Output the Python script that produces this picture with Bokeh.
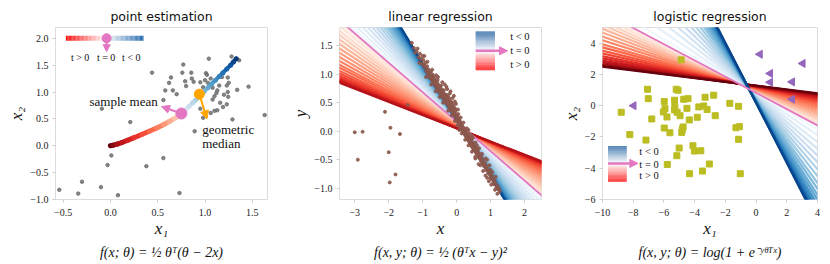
import numpy as np
from bokeh.plotting import figure
from bokeh.layouts import row
from bokeh.models import Title, Arrow, NormalHead, Range1d, FixedTicker
from bokeh.embed import file_html
from bokeh.resources import INLINE
from bokeh.core.properties import value
from bokeh.palettes import Reds256, Blues256

# ---------------- text ----------------
titles = ["point estimation", "linear regression", "logistic regression"]
formulas = ["f(x; θ) = ½ θᵀ(θ − 2x)",
            "f(x, y; θ) = ½ (θᵀx − y)²",
            "f(x, y; θ) = log(1 + e⁻ʸᶿᵀˣ)"]
legend_labels = ["t > 0", "t = 0", "t < 0"]

# ---------------- panel 1: point estimation ----------------
p1_xticks = [-0.5, 0.0, 0.5, 1.0, 1.5]
p1_xtick_labels = ["−0.5", "0.0", "0.5", "1.0", "1.5"]
p1_yticks = [-1.0, -0.5, 0.0, 0.5, 1.0, 1.5, 2.0]
p1_ytick_labels = ["−1.0", "−0.5", "0.0", "0.5", "1.0", "1.5", "2.0"]

pts1_x = [-0.54, -0.34, -0.30, -0.10, 0.08, -0.03, 0.01, -0.09, 0.21, 0.38, 0.56, 0.73,
          0.44, 0.89, 1.63, 1.46, 0.56, 0.77, 0.76, 0.855, 0.64, 0.62, 0.58, 0.66, 0.79,
          0.80, 0.88, 1.02, 1.06, 1.03, 0.95, 0.98, 1.08, 1.13, 1.12, 1.10, 1.08, 0.89,
          0.95, 0.98, 1.06, 1.10, 1.13, 1.19, 1.23, 1.24, 1.245, 1.23, 1.18, 1.28, 1.34,
          1.29, 1.04, 1.01, 1.36, 1.24, 1.25, 0.92, 1.16, 1.20, 0.86, 1.00, 1.15, 0.70]
pts1_y = [-0.82, -0.89, -0.67, -0.77, -0.92, -0.36, -0.18, 0.69, 0.44, -0.38, -0.23, -0.88,
          1.36, 0.27, 0.57, 1.10, 0.85, 1.51, 1.36, 1.36, 1.27, 1.17, 1.03, 1.03, 1.20,
          1.11, 1.19, 1.32, 1.25, 1.17, 1.18, 1.09, 1.08, 1.03, 0.98, 0.92, 0.86, 0.83,
          0.69, 0.52, 0.61, 0.65, 0.66, 0.72, 0.77, 1.00, 0.91, 1.12, 1.28, 1.66, 1.04,
          0.49, 1.62, 1.35, 1.59, 1.27, 1.17, 1.00, 0.80, 0.95, 1.25, 1.22, 1.12, 0.96]

red_path_x = [0.0, 0.03, 0.07, 0.12, 0.18, 0.25, 0.33, 0.41, 0.49, 0.56, 0.62, 0.68, 0.72, 0.75]
red_path_y = [0.0, 0.01, 0.03, 0.06, 0.10, 0.15, 0.21, 0.27, 0.33, 0.39, 0.45, 0.51, 0.56, 0.60]
blue_path_x = [0.75, 0.79, 0.83, 0.87, 0.91, 0.95, 0.99, 1.03, 1.07, 1.11, 1.15, 1.19, 1.23, 1.27, 1.30, 1.33]
blue_path_y = [0.60, 0.66, 0.73, 0.80, 0.87, 0.94, 1.01, 1.08, 1.15, 1.22, 1.29, 1.36, 1.43, 1.50, 1.56, 1.62]

sample_mean = (0.75, 0.60)
geo_median = (0.94, 0.96)

# ---------------- panel 2: linear regression ----------------
p2_xticks = [-3, -2, -1, 0, 1, 2]
p2_xtick_labels = ["−3", "−2", "−1", "0", "1", "2"]
p2_yticks = [-1.0, -0.5, 0.0, 0.5, 1.0, 1.5]
p2_ytick_labels = ["−1.0", "−0.5", "0.0", "0.5", "1.0", "1.5"]

lin_pink = (-0.517, 0.166)
lin_red_slope = [-0.506, -0.489, -0.469, -0.449, -0.429, -0.408, -0.388, -0.368, -0.349, -0.331,
                 -0.314, -0.300, -0.286, -0.274, -0.263, -0.254, -0.246, -0.240, -0.236, -0.232]
lin_red_icpt = [0.161, 0.154, 0.146, 0.138, 0.130, 0.122, 0.114, 0.106, 0.098, 0.091,
                0.084, 0.078, 0.072, 0.067, 0.063, 0.059, 0.056, 0.054, 0.052, 0.050]
lin_blue_slope = [-0.536, -0.564, -0.597, -0.631, -0.664, -0.697, -0.730, -0.763, -0.796, -0.824,
                  -0.853, -0.876, -0.900, -0.919, -0.938, -0.952, -0.966, -0.976, -0.983, -0.990]
lin_blue_icpt = [0.167, 0.169, 0.171, 0.173, 0.175, 0.177, 0.180, 0.182, 0.184, 0.186,
                 0.187, 0.189, 0.190, 0.192, 0.193, 0.194, 0.195, 0.195, 0.196, 0.196]

pts2_x = [-1.32, -1.26, -1.18, -1.12, -1.08, -1.02, -0.98, -0.95, -0.92, -0.90, -0.87, -0.85, -0.82,
          -0.80, -0.78, -0.76, -0.73, -0.71, -0.69, -0.67, -0.65, -0.63, -0.61, -0.59, -0.57, -0.55,
          -0.53, -0.51, -0.49, -0.47, -0.45, -0.43, -0.41, -0.39, -0.37, -0.35, -0.33, -0.31, -0.29,
          -0.27, -0.25, -0.23, -0.21, -0.19, -0.17, -0.15, -0.13, -0.11, -0.09, -0.07, -0.05, -0.03,
          -0.01, 0.01, 0.03, 0.05, 0.07, 0.09, 0.11, 0.13, 0.15, 0.17, 0.19, 0.21, 0.23, 0.25, 0.27,
          0.29, 0.31, 0.33, 0.35, 0.37, 0.39, 0.41, 0.43, 0.45, 0.47, 0.49, 0.51, 0.53, 0.55, 0.57,
          0.59, 0.61, 0.63, 0.66, 0.68, 0.71, 0.73, 0.76, 0.78, 0.81, 0.84, 0.87, 0.90, 0.93, 0.96,
          1.00, 1.04, 1.08, 1.12, 1.17, 1.22, 1.27,
          -1.22, -1.05, -0.96, -0.88, -0.84, -0.79, -0.74, -0.70, -0.66, -0.62, -0.58, -0.56, -0.52,
          -0.48, -0.46, -0.44, -0.40, -0.38, -0.36, -0.32, -0.30, -0.28, -0.26, -0.24, -0.22, -0.20,
          -0.18, -0.16, -0.14, -0.12, -0.10, -0.08, -0.06, -0.04, -0.02, 0.00, 0.02, 0.04, 0.06, 0.08,
          0.10, 0.12, 0.14, 0.16, 0.18, 0.20, 0.22, 0.24, 0.26, 0.28, 0.30, 0.32, 0.34, 0.36, 0.38,
          0.40, 0.42, 0.44, 0.46, 0.48, 0.50, 0.54, 0.58, 0.62, 0.65, 0.70, 0.74, 0.79, 0.83, 0.88,
          0.92, 0.98, 1.02, 1.06, 1.10, 1.15, 1.20, 1.25, -0.30, -0.20, -0.12, -0.05, 0.05, -0.55,
          -0.95, 0.35, 0.45, 0.60, 0.90, 1.00, 0.55, 0.70, 0.85, 0.95,
          -1.15, -1.00, -0.86, -0.72, -0.60, -0.42, -0.35, -0.28, -0.18, -0.08, -0.02, 0.04, 0.12,
          0.20, 0.30, 0.38, 0.48, 0.56, 0.66, 0.75, 0.86, 0.97, 1.05, 1.15, -1.10, -0.90, -0.75,
          -0.62, -0.50, -0.40, -0.25, -0.15, -0.05, 0.02, 0.08, 0.15, 0.25, 0.35, 0.45, 0.55, 0.65,
          0.78, 0.90, 1.02, 1.13, 1.20,
          -3.00, -2.77, -2.91, -2.11, -1.95, -1.67, -2.00, -1.80, -1.97, -1.44]
pts2_y = [1.55, 1.46, 1.40, 1.30, 1.36, 1.18, 1.25, 1.12, 1.20, 1.05, 1.14, 0.98, 1.08,
          1.02, 0.93, 1.04, 0.97, 0.88, 0.95, 0.84, 0.92, 0.80, 0.88, 0.76, 0.85, 0.72,
          0.81, 0.68, 0.78, 0.66, 0.74, 0.61, 0.70, 0.58, 0.66, 0.54, 0.62, 0.50, 0.59,
          0.47, 0.56, 0.43, 0.52, 0.40, 0.48, 0.36, 0.44, 0.32, 0.40, 0.28, 0.35, 0.24,
          0.30, 0.20, 0.25, 0.15, 0.21, 0.10, 0.16, 0.06, 0.11, 0.02, 0.07, -0.02, 0.03, -0.06, -0.01,
          -0.10, -0.05, -0.14, -0.09, -0.18, -0.12, -0.22, -0.16, -0.26, -0.20, -0.30, -0.24, -0.34, -0.28, -0.38,
          -0.32, -0.42, -0.36, -0.47, -0.40, -0.52, -0.45, -0.57, -0.50, -0.62, -0.56, -0.68, -0.62, -0.74, -0.69,
          -0.82, -0.78, -0.90, -0.86, -0.98, -0.97, -1.06,
          1.38, 1.27, 1.16, 1.10, 1.04, 0.98, 0.92, 0.99, 0.88, 0.84, 0.80, 0.90, 0.75,
          0.72, 0.80, 0.68, 0.64, 0.72, 0.60, 0.56, 0.64, 0.52, 0.62, 0.48, 0.58, 0.45,
          0.53, 0.42, 0.50, 0.37, 0.46, 0.34, 0.41, 0.29, 0.37, 0.26, 0.18, 0.22, 0.12, 0.19,
          0.08, 0.13, 0.04, 0.09, 0.00, 0.05, -0.04, 0.01, -0.08, -0.03, -0.12, -0.07, -0.16, -0.11, -0.20,
          -0.14, -0.24, -0.19, -0.28, -0.22, -0.33, -0.30, -0.36, -0.39, -0.43, -0.48, -0.53, -0.58, -0.61, -0.65,
          -0.70, -0.76, -0.84, -0.83, -0.93, -0.92, -1.01, -1.02, 0.78, 0.66, 0.58, 0.52, 0.30, 0.95,
          1.32, 0.02, -0.08, -0.25, -0.50, -0.68, -0.45, -0.60, -0.78, -0.88,
          1.45, 1.32, 1.22, 1.08, 0.98, 0.86, 0.82, 0.74, 0.70, 0.62, 0.48, 0.38, 0.24,
          0.15, 0.05, -0.05, -0.12, -0.20, -0.30, -0.40, -0.48, -0.60, -0.72, -0.80, 1.20, 0.95, 0.82,
          0.70, 0.60, 0.50, 0.36, 0.28, 0.18, 0.10, 0.02, -0.04, -0.15, -0.25, -0.36, -0.48, -0.58,
          -0.70, -0.82, -0.94, -1.03, -1.10,
          -0.02, -0.01, -0.50, 0.34, 0.06, -0.05, -0.37, -0.76, -0.90, 0.46]

# ---------------- panel 3: logistic regression ----------------
p3_xticks = [-10, -8, -6, -4, -2, 0, 2, 4]
p3_xtick_labels = ["−10", "−8", "−6", "−4", "−2", "0", "2", "4"]
p3_yticks = [-6, -4, -2, 0, 2, 4]
p3_ytick_labels = ["−6", "−4", "−2", "0", "2", "4"]

log_pink = (-0.519, 0.818)
log_red_slope = [-0.503, -0.479, -0.451, -0.424, -0.396, -0.368, -0.340, -0.312, -0.284, -0.261,
                 -0.237, -0.217, -0.197, -0.181, -0.165, -0.153, -0.141, -0.133, -0.127, -0.122]
log_red_icpt = [0.836, 0.864, 0.897, 0.929, 0.961, 0.994, 1.026, 1.058, 1.091, 1.118,
                1.146, 1.169, 1.192, 1.211, 1.229, 1.243, 1.257, 1.266, 1.273, 1.280]
log_blue_slope = [-0.575, -0.659, -0.757, -0.855, -0.953, -1.051, -1.149, -1.248, -1.346, -1.430,
                  -1.514, -1.584, -1.654, -1.710, -1.766, -1.808, -1.850, -1.878, -1.899, -1.920]
log_blue_icpt = [0.792, 0.754, 0.710, 0.665, 0.620, 0.576, 0.531, 0.486, 0.442, 0.403,
                 0.365, 0.333, 0.301, 0.276, 0.250, 0.231, 0.212, 0.199, 0.190, 0.180]

neg_x = [-4.88, -7.07, -7.02, -8.78, -8.22, -7.17, -6.79, -5.98, -5.93, -6.04, -5.80, -5.98, -5.61,
         -5.78, -5.20, -5.08, -5.31, -5.29, -5.31, -5.14, -4.95, -4.75, -4.80, -4.84, -4.71, -4.43,
         -4.50, -4.35, -5.01, -5.16, -4.33, -4.11, -4.01, -3.73, -3.83, -3.60, -3.49, -3.41, -3.32,
         -3.19, -3.04, -2.76, -2.66, -1.71, -1.31, -1.09, -1.14, -1.14, -1.03]
neg_y = [2.93, 1.05, 0.45, -0.42, -1.85, -2.20, -0.85, 0.26, -0.19, -0.40, -0.72, -1.43, -1.73,
         -3.76, 1.05, 0.99, 0.35, -0.06, -0.27, -0.42, -0.64, -1.36, -1.51, -1.71, 0.41, 0.45,
         -0.17, -0.91, -2.71, -3.20, -4.35, -2.56, -2.90, -0.08, -0.74, -2.88, -4.18, -0.02, 0.54,
         -0.25, -3.73, 0.67, -0.64, 0.15, -1.41, -1.34, -0.04, -2.15, -4.35]
pos_x = [0.25, 3.04, 0.92, 0.92, 2.35, 2.35, -7.97]
pos_y = [3.29, 2.70, 2.06, 1.50, 1.52, 0.41, 0.00]

# ---------------- styling ----------------
PINK = "#e377c2"
ORANGE = "#ffa500"
GRAY = "#6e6e6e"
BROWN = "#8c564b"
OLIVE = "#bcbd22"
PURPLE = "#9467bd"
SERIF = "Liberation Serif"


def hexmix(c1, c2, f):
    a = [int(c1[i:i + 2], 16) for i in (1, 3, 5)]
    b = [int(c2[i:i + 2], 16) for i in (1, 3, 5)]
    return "#%02x%02x%02x" % tuple(int(round(a[k] + (b[k] - a[k]) * f)) for k in range(3))


def reds(frac):
    return Reds256[int(round((1 - frac) * 255))]


def blues(frac):
    return Blues256[int(round((1 - frac) * 255))]


def make_fig(title, w, xr, yr, xt, xtl, yt, ytl, xlabel, ylabel, formula, bl, br):
    p = figure(width=w, height=264, x_range=Range1d(*xr), y_range=Range1d(*yr),
               output_backend="svg", toolbar_location=None,
               min_border_left=bl, min_border_right=br, min_border_top=27, min_border_bottom=65)
    p.title.text = title
    p.title.align = "center"
    p.title.text_font = "DejaVu Sans"
    p.title.text_font_size = "12.5px"
    p.title.text_font_style = "normal"
    p.title.text_color = "#111111"
    p.title.standoff = 8
    p.grid.visible = False
    p.outline_line_color = "#dcdcdc"
    p.outline_line_width = 1
    p.background_fill_color = "white"
    p.border_fill_color = "white"
    p.xaxis.ticker = FixedTicker(ticks=xt)
    p.yaxis.ticker = FixedTicker(ticks=yt)
    p.xaxis.major_label_overrides = {t: l for t, l in zip(xt, xtl)}
    p.yaxis.major_label_overrides = {t: l for t, l in zip(yt, ytl)}
    for ax in (p.xaxis, p.yaxis):
        ax.axis_line_color = None
        ax.major_tick_line_color = "#cccccc"
        ax.major_tick_out = 3
        ax.major_tick_in = 0
        ax.minor_tick_line_color = None
        ax.major_label_text_font = SERIF
        ax.major_label_text_font_size = "10px"
        ax.major_label_text_color = "#222222"
        ax.axis_label_text_font = SERIF
        ax.axis_label_text_font_size = "17px"
        ax.axis_label_text_font_style = "italic"
        ax.axis_label_text_color = "#111111"
    p.xaxis.major_label_standoff = 6
    p.yaxis.major_label_standoff = 4
    p.xaxis.axis_label_standoff = 0
    p.yaxis.axis_label_standoff = 1
    p.xaxis.axis_label = xlabel
    p.yaxis.axis_label = ylabel
    p.add_layout(Title(text=formula, align="center", text_font=SERIF, text_font_size="14px",
                       text_font_style="italic", text_color="#111111", standoff=4), "below")
    return p


def vbar_legend(p, x0, x1, ylo, ymid, yhi, xarrow, xlab, ylabs, n=30):
    top = "#1f5e9f"
    bot = "#ff0000"
    ys = np.linspace(ymid, yhi, n + 1)
    p.quad(left=x0, right=x1, bottom=ys[:-1], top=ys[1:],
           fill_color=[hexmix("#ffffff", top, (i + 0.5) / n) for i in range(n)], line_color=None)
    ys = np.linspace(ylo, ymid, n + 1)
    p.quad(left=x0, right=x1, bottom=ys[:-1], top=ys[1:],
           fill_color=[hexmix(bot, "#ffffff", (i + 0.5) / n) for i in range(n)], line_color=None)
    p.add_layout(Arrow(end=NormalHead(size=8, fill_color=PINK, line_color=PINK),
                       x_start=x0, y_start=ymid, x_end=xarrow, y_end=ymid,
                       line_color=PINK, line_width=2.5))
    p.text(x=[xlab] * 3, y=ylabs, text=[legend_labels[2], legend_labels[1], legend_labels[0]],
           text_font=value(SERIF), text_font_size="10.5px", text_align="left", text_baseline="middle",
           text_color="#111111")


def fan(p, slopes, icpts, xlo, xhi, colfun, f0, f1, lw):
    n = len(slopes)
    m = np.array(slopes)
    b = np.array(icpts)
    cols = [colfun(f0 + (f1 - f0) * i / (n - 1)) for i in range(n)]
    p.segment(x0=xlo, y0=m * xlo + b, x1=xhi, y1=m * xhi + b, line_color=cols, line_width=lw)


# ---------------- panel 1 ----------------
p1 = make_fig(titles[0], 288, (-0.58, 1.66), (-1.0, 2.2), p1_xticks, p1_xtick_labels,
              p1_yticks, p1_ytick_labels, "x₁", "x₂", formulas[0], 55, 21)
p1.scatter(pts1_x, pts1_y, size=3.5, color=GRAY, alpha=0.85)

rx, ry = np.array(red_path_x), np.array(red_path_y)
nr = len(rx) - 1
p1.segment(x0=rx[:-1], y0=ry[:-1], x1=rx[1:], y1=ry[1:], line_width=5, line_cap="round",
           line_color=[reds(1.0 - 0.85 * i / (nr - 1)) for i in range(nr)])
bx, by = np.array(blue_path_x), np.array(blue_path_y)
nb = len(bx) - 1
p1.segment(x0=bx[:-1], y0=by[:-1], x1=bx[1:], y1=by[1:], line_width=4, line_cap="round",
           line_color=[blues(0.12 + 0.85 * i / (nb - 1)) for i in range(nb)])
p1.scatter(bx, by, size=5, line_color=None,
           fill_color=[blues(0.12 + 0.85 * i / (nb)) for i in range(nb + 1)])

p1.add_layout(Arrow(end=NormalHead(size=8, fill_color=PINK, line_color=PINK),
                    x_start=sample_mean[0], y_start=sample_mean[1], x_end=0.54, y_end=0.73,
                    line_color=PINK, line_width=2))
p1.add_layout(Arrow(end=NormalHead(size=8, fill_color=ORANGE, line_color=ORANGE),
                    x_start=geo_median[0], y_start=geo_median[1], x_end=1.02, y_end=0.50,
                    line_color=ORANGE, line_width=2))
p1.scatter([sample_mean[0]], [sample_mean[1]], size=11, color=PINK)
p1.scatter([geo_median[0]], [geo_median[1]], size=10, color=ORANGE)
p1.text(x=[0.50], y=[0.83], text=["sample mean"], text_font=value(SERIF), text_font_size="13px",
        text_align="right", text_baseline="middle", text_color="#111111")
p1.text(x=[0.97, 0.97], y=[0.30, 0.04], text=["geometric", "median"], text_font=value(SERIF),
        text_font_size="13px", text_align="left", text_baseline="middle", text_color="#111111")

# horizontal colour bar legend
hx0, hmid, hx1, hy, hh = -0.47, -0.05, 0.35, 2.0, 0.09
nq = 30
xs = np.linspace(hx0, hmid, nq + 1)
p1.quad(left=xs[:-1], right=xs[1:], bottom=hy - hh / 2, top=hy + hh / 2, line_color=None,
        fill_color=[hexmix("#ff0000", "#ffffff", (i + 0.5) / nq) for i in range(nq)])
xs = np.linspace(hmid, hx1, nq + 1)
p1.quad(left=xs[:-1], right=xs[1:], bottom=hy - hh / 2, top=hy + hh / 2, line_color=None,
        fill_color=[hexmix("#ffffff", "#2166ac", (i + 0.5) / nq) for i in range(nq)])
p1.add_layout(Arrow(end=NormalHead(size=7, fill_color=PINK, line_color=PINK),
                    x_start=-0.04, y_start=2.0, x_end=-0.04, y_end=1.75,
                    line_color=PINK, line_width=2))
p1.scatter([-0.04], [2.0], size=9, color=PINK)
p1.text(x=[-0.32, -0.045, 0.22], y=[1.64, 1.64, 1.64], text=legend_labels, text_font=value(SERIF),
        text_font_size="10px", text_align="center", text_baseline="middle", text_color="#111111")

# ---------------- panel 2 ----------------
p2 = make_fig(titles[1], 270, (-3.45, 2.5), (-1.2, 1.82), p2_xticks, p2_xtick_labels,
              p2_yticks, p2_ytick_labels, "x", "y", formulas[1], 40, 17)
fan(p2, lin_red_slope, lin_red_icpt, -4.0, 3.0, reds, 0.06, 0.82, 2.2)
fan(p2, lin_blue_slope, lin_blue_icpt, -4.0, 3.0, blues, 0.04, 0.90, 2.2)
p2.segment(x0=-4.0, y0=lin_pink[0] * -4.0 + lin_pink[1], x1=3.0, y1=lin_pink[0] * 3.0 + lin_pink[1],
           line_color=PINK, line_width=1.8)
p2.scatter(pts2_x, pts2_y, size=3, color=BROWN, alpha=0.9)
vbar_legend(p2, 0.56, 1.13, 1.07, 1.41, 1.75, 1.50, 1.58, [1.67, 1.41, 1.17])

# ---------------- panel 3 ----------------
p3 = make_fig(titles[2], 272, (-10, 4), (-6, 5), p3_xticks, p3_xtick_labels,
              p3_yticks, p3_ytick_labels, "x₁", "x₂", formulas[2], 41, 13)
fan(p3, log_red_slope, log_red_icpt, -11.0, 5.0, reds, 0.06, 1.0, 2.2)
fan(p3, log_blue_slope, log_blue_icpt, -11.0, 5.0, blues, 0.04, 0.92, 2.2)
p3.segment(x0=-11.0, y0=log_pink[0] * -11.0 + log_pink[1], x1=5.0, y1=log_pink[0] * 5.0 + log_pink[1],
           line_color=PINK, line_width=1.8)
p3.scatter(neg_x, neg_y, size=6, marker="square", color=OLIVE)
p3.scatter(pos_x, pos_y, size=8, marker="triangle", angle=np.pi / 2, color=PURPLE)
vbar_legend(p3, -9.64, -8.42, -4.87, -3.69, -2.58, -7.70, -7.6, [-2.94, -3.74, -4.44])

layout = row(p1, p2, p3)
open("out.html", "w").write(file_html(layout, INLINE))
